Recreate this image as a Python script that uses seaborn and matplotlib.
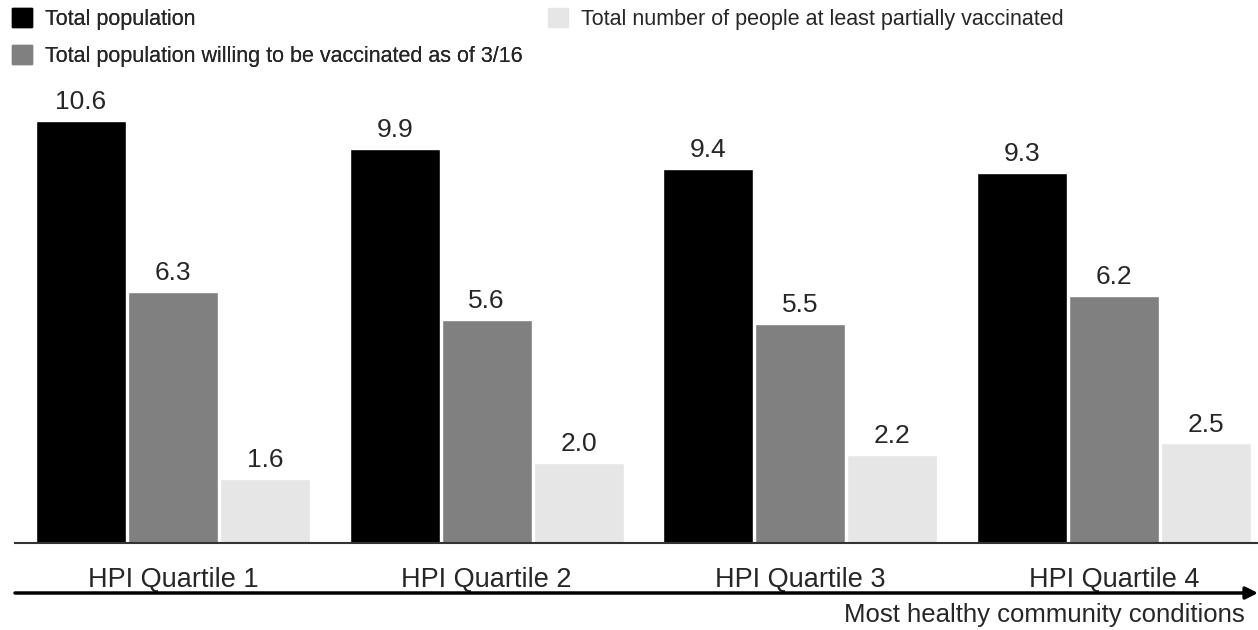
import pandas as pd
import matplotlib.pyplot as plt
import matplotlib.patches as mpatches
import seaborn as sns

# data
quartiles = ['HPI Quartile 1', 'HPI Quartile 2', 'HPI Quartile 3', 'HPI Quartile 4']
series = ['Total population',
          'Total population willing to be vaccinated as of 3/16',
          'Total number of people at least partially vaccinated']
total_pop = [10.6, 9.9, 9.4, 9.3]
willing = [6.3, 5.6, 5.5, 6.2]
vaccinated = [1.6, 2.0, 2.2, 2.5]
colors = ['#000000', '#808080', '#e6e6e6']

df = pd.DataFrame({
    'quartile': quartiles * 3,
    'series': [series[0]] * 4 + [series[1]] * 4 + [series[2]] * 4,
    'value': total_pop + willing + vaccinated,
})

sns.set_style('white')
plt.rcParams['font.family'] = ['Liberation Sans', 'DejaVu Sans']

fig = plt.figure(figsize=(12.58, 6.3), dpi=100)
ax = fig.add_axes([15 / 1258, 87 / 630, 1 - 15 / 1258, 463 / 630])

sns.barplot(data=df, x='quartile', y='value', hue='series', palette=colors,
            width=0.88, gap=0.02, ax=ax, legend=False, saturation=1)

for cont in ax.containers:
    ax.bar_label(cont, fmt='%.1f', padding=5, fontsize=19)

ax.set_ylim(0, 11.63)
ax.set_xlim(-0.504, 3.46)
ax.set_xlabel('')
ax.set_ylabel('')
ax.set_yticks([])
ax.tick_params(axis='x', length=0, labelsize=19.5, pad=17)
for s in ['top', 'right', 'left']:
    ax.spines[s].set_visible(False)
ax.spines['bottom'].set_color('#333333')
ax.spines['bottom'].set_linewidth(1.5)

# legends
h = [mpatches.Patch(color=c) for c in colors]
leg_kw = dict(frameon=False, fontsize=15.5, handlelength=0.95, handleheight=0.95,
              handletextpad=0.6, labelspacing=0.72, borderaxespad=0, borderpad=0)
leg1 = fig.legend(h[:2], series[:2], loc='upper left',
                  bbox_to_anchor=(12 / 1258, 1 - 8 / 630), **leg_kw)
fig.add_artist(leg1)
fig.legend(h[2:], series[2:], loc='upper left',
           bbox_to_anchor=(548 / 1258, 1 - 8 / 630), **leg_kw)

# arrow
ax.annotate('', xy=(1.0, 37 / 630), xycoords='figure fraction',
            xytext=(15 / 1258, 37 / 630), textcoords='figure fraction',
            arrowprops=dict(arrowstyle='-|>', color='black', lw=2.5,
                            mutation_scale=18, shrinkA=0, shrinkB=0))
fig.text(1245 / 1258, 3 / 630, 'Most healthy community conditions',
         ha='right', va='bottom', fontsize=18.5)

plt.savefig('out.png', dpi=100)
